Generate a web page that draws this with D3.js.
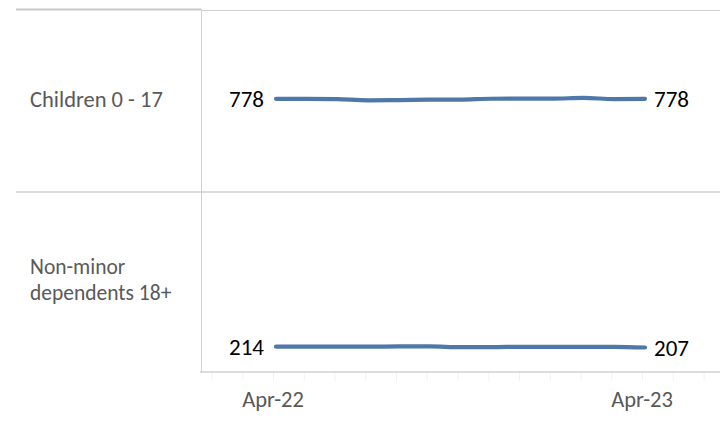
<!DOCTYPE html>
<html>
<head>
<meta charset="utf-8">
<script src="https://cdn.jsdelivr.net/npm/d3@7"></script>
<style>
  body { margin: 0; background: #fff; }
  svg text { font-family: Calibri, Carlito, Lato, sans-serif; }
</style>
</head>
<body>
<div id="chart"></div>
<script>
// Data
var months = ["Apr-22", "May-22", "Jun-22", "Jul-22", "Aug-22", "Sep-22", "Oct-22",
              "Nov-22", "Dec-22", "Jan-23", "Feb-23", "Mar-23", "Apr-23"];
var rowLabels = [["Children 0 - 17"], ["Non-minor", "dependents 18+"]];
var children = [778, 778, 775, 766, 768, 771, 772, 779, 780, 780, 786, 776, 778];
var nonMinor = [214, 215, 214, 214, 216, 216, 210, 210, 213, 213, 212, 213, 207];
var axisLabels = ["Apr-22", "Apr-23"];

var series = [children, nonMinor];

var W = 720, H = 422;
var svg = d3.select("#chart").append("svg")
    .attr("width", W)
    .attr("height", H);

// Layout
var left = 16, split = 201.5, right = 720;
var rows = [{ top: 10, bottom: 192 }, { top: 192, bottom: 372 }];

// x: month index, ticks run a bit past the data on both sides
var x = d3.scaleLinear().domain([0, 12]).range([276, 645]);
var tickIdx = d3.range(-2, 15);

var grid = "#d0d0d0";

// Grid / frame lines
svg.append("line")
    .attr("x1", left).attr("x2", split).attr("y1", 9.5).attr("y2", 9.5)
    .attr("stroke", "#c8c8c8").attr("stroke-width", 2);
svg.append("line")
    .attr("x1", split).attr("x2", right).attr("y1", 10.5).attr("y2", 10.5)
    .attr("stroke", grid).attr("stroke-width", 1);
svg.append("line")
    .attr("x1", left).attr("x2", right).attr("y1", 192).attr("y2", 192)
    .attr("stroke", grid).attr("stroke-width", 1.5);
svg.append("line")
    .attr("x1", split).attr("x2", split).attr("y1", 10).attr("y2", 372)
    .attr("stroke", grid).attr("stroke-width", 1);

// x axis
var xAxis = d3.axisBottom(x)
    .tickValues(tickIdx)
    .tickSize(9)
    .tickFormat("");
var ax = svg.append("g")
    .attr("transform", "translate(0,372)")
    .call(xAxis);
ax.select(".domain").remove();
ax.selectAll(".tick line").attr("stroke", "#f2f2f2").attr("transform", "translate(-3,0)");
svg.append("line")
    .attr("x1", 200).attr("x2", right).attr("y1", 372).attr("y2", 372)
    .attr("stroke", grid).attr("stroke-width", 1.5);

svg.selectAll(".xlab")
    .data(axisLabels)
    .enter()
    .append("text")
    .attr("class", "xlab")
    .attr("x", function (d) { return x(months.indexOf(d)) - 3; })
    .attr("y", 406.5)
    .attr("text-anchor", "middle")
    .attr("font-size", "22.5px")
    .attr("fill", "#595959")
    .text(function (d) { return d; });

// Row labels
rowLabels.forEach(function (lines, r) {
    var y0 = r === 0 ? 106.5 : 273.5;
    lines.forEach(function (s, k) {
        svg.append("text")
            .attr("x", 30)
            .attr("y", y0 + k * 26)
            .attr("font-size", r === 0 ? "22.5px" : "21.5px")
            .attr("fill", "#595959")
            .text(s);
    });
});

// Lines
var yMax = 1520;
series.forEach(function (vals, r) {
    var y = d3.scaleLinear().domain([0, yMax]).range([rows[r].bottom, rows[r].top]);
    var line = d3.line()
        .x(function (d, i) { return x(i); })
        .y(function (d) { return y(d); })
        .curve(d3.curveMonotoneX);

    svg.append("path")
        .datum(vals)
        .attr("d", line)
        .attr("fill", "none")
        .attr("stroke", "#4e78a8")
        .attr("stroke-width", 4.2)
        .attr("stroke-linecap", "round")
        .attr("stroke-linejoin", "round");

    var first = vals[0], last = vals[vals.length - 1];
    svg.append("text")
        .attr("x", x(0) - 12)
        .attr("y", y(first))
        .attr("dy", "0.36em")
        .attr("text-anchor", "end")
        .attr("font-size", "23px")
        .attr("fill", "#000")
        .text(first);
    svg.append("text")
        .attr("x", x(vals.length - 1) + 9)
        .attr("y", y(last))
        .attr("dy", "0.36em")
        .attr("text-anchor", "start")
        .attr("font-size", "23px")
        .attr("fill", "#000")
        .text(last);
});
</script>
</body>
</html>
